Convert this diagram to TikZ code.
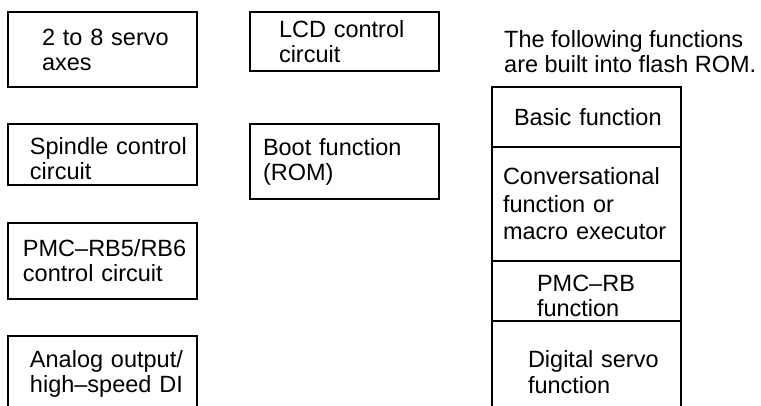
\documentclass[tikz,border=0pt]{standalone}
\usepackage{fontspec}
\setmainfont{Liberation Sans}
\usetikzlibrary{positioning}
\tikzset{
  blockbox/.style={draw=black,line width=1.5pt,outer sep=0pt,inner ysep=0pt,
    minimum width=189pt,align=left,font=\fontsize{23.5}{25}\selectfont},
  notetext/.style={inner sep=0pt,align=left,font=\fontsize{23.5}{25}\selectfont},
}

\begin{document}
\begin{tikzpicture}[x=1pt, y=-1pt, node distance=37pt]
    \clip (0,0) rectangle (761,405);
    % left column
    \node[blockbox,inner xsep=34pt,text width=121pt,minimum height=75pt] (servo) at (102.5,49.5) {\mbox{2 to 8 servo}\\axes};
    \node[blockbox,inner xsep=22pt,text width=145pt,minimum height=61pt,text height=26pt,below=of servo] (spindle) {\mbox{Spindle control}\\circuit};
    \node[blockbox,inner xsep=15pt,text width=159pt,minimum height=76pt,below=38pt of spindle] (pmc) {\mbox{PMC–RB5/RB6}\\\mbox{control circuit}};
    \node[blockbox,inner xsep=22pt,text width=145pt,minimum height=76pt,below=of pmc] (analog) {\mbox{Analog output/}\\\mbox{high–speed DI}};

    % middle column
    \node[blockbox,inner xsep=29pt,text width=131pt,minimum height=59pt] (lcd) at (344.5,41.5) {\mbox{LCD control}\\circuit};
    \node[blockbox,inner xsep=13pt,text width=163pt,minimum height=75pt,below=53pt of lcd] (boot) {\mbox{Boot function}\\(ROM)};

    % flash ROM stack
    \node[notetext,anchor=north west] (romnote) at (504,30) {The following functions\\are built into flash ROM.};
    \node[blockbox,inner xsep=22pt,text width=145pt,minimum height=60pt] (basic) at (586.5,117) {\mbox{Basic function}};
    \node[blockbox,inner xsep=11pt,text width=167pt,minimum height=114pt,below=0pt of basic,
      font=\fontsize{23.5}{27.5}\selectfont] (conv) {Conversational\\\mbox{function or}\\\mbox{macro executor}};
    \node[blockbox,inner xsep=45pt,text width=99pt,minimum height=60pt,text height=26pt,below=0pt of conv] (pmcrb) {\mbox{PMC–RB}\\function};
    \node[blockbox,inner xsep=36pt,text width=117pt,minimum height=102pt,below=0pt of pmcrb,
      font=\fontsize{23.5}{26}\selectfont] (servofn) {\mbox{Digital servo}\\function};
\end{tikzpicture}
\end{document}
